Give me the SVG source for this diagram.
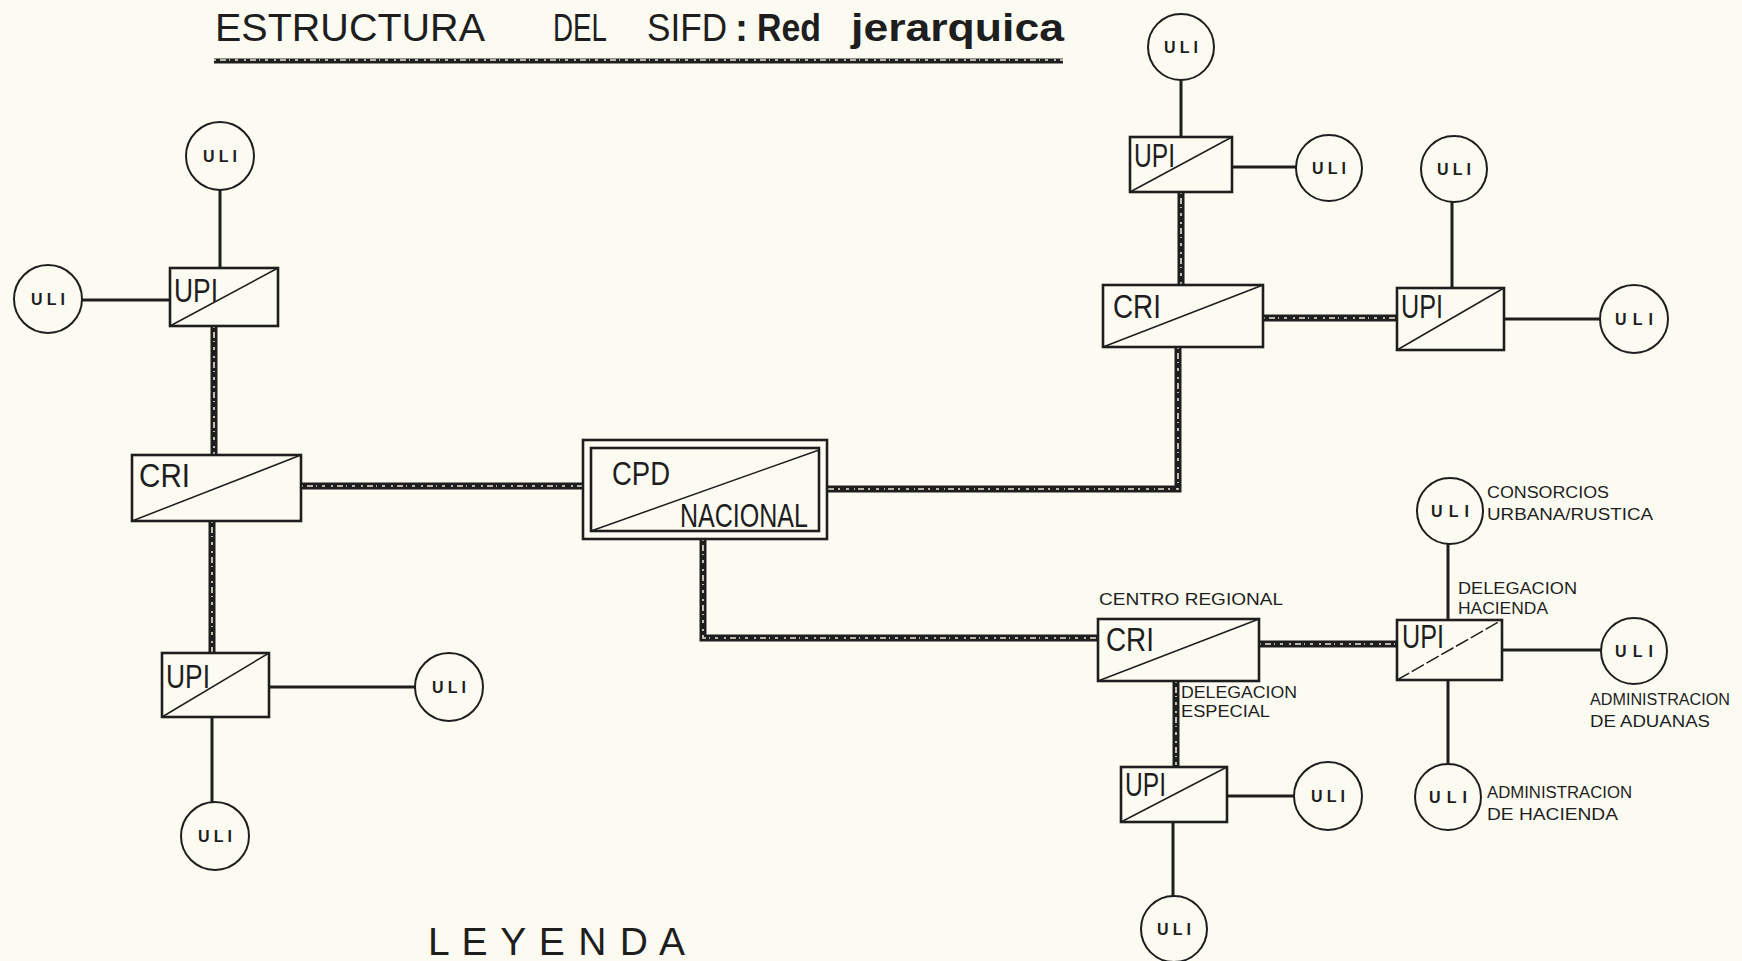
<svg xmlns="http://www.w3.org/2000/svg" width="1742" height="961" viewBox="0 0 1742 961">
<style>
.bg{fill:#fcfbf1}
.box{fill:none;stroke:#1e1e1e;stroke-width:2.6}
.diag{stroke:#1e1e1e;stroke-width:1.5}
.uli{fill:none;stroke:#1e1e1e;stroke-width:2}
.ult{font-family:"Liberation Sans",Arial,sans-serif;font-size:16px;font-weight:bold;letter-spacing:4px;text-anchor:middle;fill:#1e1e1e}
.lbl{font-family:"Liberation Sans",Arial,sans-serif;font-size:33px;fill:#1e1e1e}
.sm{font-family:"Liberation Sans",Arial,sans-serif;font-size:16px;fill:#1e1e1e}
.ttl{font-family:"Liberation Sans",Arial,sans-serif;font-size:39px;fill:#1e1e1e}
.link{fill:none;stroke:#1e1e1e;stroke-width:3}
.trunk{fill:none;stroke:#1e1e1e;stroke-width:7}
.trunkin{fill:none;stroke:#e9e6d6;stroke-width:1.6;stroke-dasharray:2 4 6 3 1 5 3 6}
</style>
<rect class="bg" x="0" y="0" width="1742" height="961"/>

<g id="title">
<text class="ttl" x="215" y="41" textLength="270" lengthAdjust="spacingAndGlyphs">ESTRUCTURA</text>
<text class="ttl" x="553" y="41" textLength="54" lengthAdjust="spacingAndGlyphs">DEL</text>
<text class="ttl" x="647" y="41" textLength="80" lengthAdjust="spacingAndGlyphs">SIFD</text>
<text class="ttl" x="735" y="41" font-weight="bold">:</text>
<text class="ttl" x="757" y="41" font-weight="bold" textLength="64" lengthAdjust="spacingAndGlyphs">Red</text>
<text class="ttl" x="851" y="41" font-weight="bold" textLength="213" lengthAdjust="spacingAndGlyphs">jerarquica</text>
<line x1="214" y1="61" x2="1063" y2="61" stroke="#1e1e1e" stroke-width="5"/>
<line x1="214" y1="60" x2="1063" y2="60" class="trunkin" stroke-width="1.2"/>
</g>

<g id="connectors">
<!-- left cluster -->
<line class="link" x1="220" y1="190" x2="220" y2="268"/>
<line class="link" x1="82" y1="300" x2="170" y2="300"/>
<line class="trunk" x1="214" y1="326" x2="214" y2="455"/>
<line class="trunkin" x1="214" y1="326" x2="214" y2="455"/>
<line class="trunk" x1="301" y1="486" x2="583" y2="486"/>
<line class="trunkin" x1="301" y1="486" x2="583" y2="486"/>
<line class="trunk" x1="212" y1="521" x2="212" y2="653"/>
<line class="trunkin" x1="212" y1="521" x2="212" y2="653"/>
<line class="link" x1="269" y1="687" x2="415" y2="687"/>
<line class="link" x1="212" y1="717" x2="212" y2="802"/>
<!-- upper right -->
<line class="link" x1="1181" y1="80" x2="1181" y2="137"/>
<line class="link" x1="1232" y1="167" x2="1296" y2="167"/>
<line class="trunk" x1="1181" y1="192" x2="1181" y2="285"/>
<line class="trunkin" x1="1181" y1="192" x2="1181" y2="285"/>
<line class="trunk" x1="1263" y1="318" x2="1397" y2="318"/>
<line class="trunkin" x1="1263" y1="318" x2="1397" y2="318"/>
<line class="link" x1="1452" y1="202" x2="1452" y2="288"/>
<line class="link" x1="1504" y1="319" x2="1600" y2="319"/>
<path class="trunk" d="M1178 347 V489 H827"/>
<path class="trunkin" d="M1178 347 V489 H827"/>
<!-- lower right -->
<path class="trunk" d="M703 539 V638 H1098"/>
<path class="trunkin" d="M703 539 V638 H1098"/>
<line class="trunk" x1="1259" y1="644" x2="1397" y2="644"/>
<line class="trunkin" x1="1259" y1="644" x2="1397" y2="644"/>
<line class="link" x1="1448" y1="544" x2="1448" y2="620"/>
<line class="link" x1="1502" y1="650" x2="1601" y2="650"/>
<line class="link" x1="1448" y1="680" x2="1448" y2="764"/>
<line class="trunk" x1="1176" y1="681" x2="1176" y2="767"/>
<line class="trunkin" x1="1176" y1="681" x2="1176" y2="767"/>
<line class="link" x1="1227" y1="796" x2="1294" y2="796"/>
<line class="link" x1="1173" y1="822" x2="1173" y2="896"/>
</g>

<!-- left cluster nodes -->
<g id="uli-l1"><circle class="uli" cx="220" cy="156" r="34"/><text class="ult" x="222" y="162">ULI</text></g>
<g id="uli-l2"><circle class="uli" cx="48" cy="299" r="34"/><text class="ult" x="50" y="305">ULI</text></g>
<g id="upi-l1"><rect class="box" x="170" y="268" width="108" height="58"/><line class="diag" x1="170" y1="326" x2="278" y2="268"/><text class="lbl" x="174" y="302" textLength="44" lengthAdjust="spacingAndGlyphs">UPI</text></g>
<g id="cri-l"><rect class="box" x="132" y="455" width="169" height="66"/><line class="diag" x1="132" y1="521" x2="301" y2="455"/><text class="lbl" x="139" y="487" font-size="35" textLength="51" lengthAdjust="spacingAndGlyphs">CRI</text></g>
<g id="cpd"><rect class="box" x="583" y="440" width="244" height="99"/><rect class="box" x="591" y="448" width="228" height="83" stroke-width="3.2"/><line class="diag" x1="591" y1="531" x2="819" y2="450"/><text class="lbl" x="612" y="485" textLength="58" lengthAdjust="spacingAndGlyphs">CPD</text><text class="lbl" x="680" y="527" font-size="23" textLength="128" lengthAdjust="spacingAndGlyphs">NACIONAL</text></g>
<g id="upi-l2"><rect class="box" x="162" y="653" width="107" height="64"/><line class="diag" x1="162" y1="717" x2="269" y2="653"/><text class="lbl" x="166" y="688" textLength="44" lengthAdjust="spacingAndGlyphs">UPI</text></g>
<g id="uli-l3"><circle class="uli" cx="449" cy="687" r="34"/><text class="ult" x="451" y="693">ULI</text></g>
<g id="uli-l4"><circle class="uli" cx="215" cy="836" r="34"/><text class="ult" x="217" y="842">ULI</text></g>

<!-- upper right nodes -->
<g id="uli-r1"><circle class="uli" cx="1181" cy="47" r="33"/><text class="ult" x="1183" y="53">ULI</text></g>
<g id="upi-r1"><rect class="box" x="1130" y="137" width="102" height="55"/><line class="diag" x1="1130" y1="192" x2="1232" y2="137"/><text class="lbl" x="1134" y="167" textLength="41" lengthAdjust="spacingAndGlyphs">UPI</text></g>
<g id="uli-r2"><circle class="uli" cx="1329" cy="168" r="33"/><text class="ult" x="1331" y="174">ULI</text></g>
<g id="cri-r1"><rect class="box" x="1103" y="285" width="160" height="62"/><line class="diag" x1="1103" y1="347" x2="1263" y2="285"/><text class="lbl" x="1113" y="318" font-size="35" textLength="48" lengthAdjust="spacingAndGlyphs">CRI</text></g>
<g id="uli-r3"><circle class="uli" cx="1454" cy="169" r="33"/><text class="ult" x="1456" y="175">ULI</text></g>
<g id="upi-r2"><rect class="box" x="1397" y="288" width="107" height="62"/><line class="diag" x1="1397" y1="350" x2="1504" y2="288"/><text class="lbl" x="1401" y="318" textLength="42" lengthAdjust="spacingAndGlyphs">UPI</text></g>
<g id="uli-r4"><circle class="uli" cx="1634" cy="319" r="34"/><text class="ult" x="1637" y="325" style="letter-spacing:6px">ULI</text></g>

<!-- lower right nodes -->
<g id="cri-r2"><rect class="box" x="1098" y="619" width="161" height="62"/><line class="diag" x1="1098" y1="681" x2="1259" y2="619"/><text class="lbl" x="1106" y="651" font-size="35" textLength="48" lengthAdjust="spacingAndGlyphs">CRI</text><text class="sm" x="1099" y="605" textLength="184" lengthAdjust="spacingAndGlyphs">CENTRO REGIONAL</text><text class="sm" x="1181" y="698" textLength="116" lengthAdjust="spacingAndGlyphs">DELEGACION</text><text class="sm" x="1181" y="717" textLength="89" lengthAdjust="spacingAndGlyphs">ESPECIAL</text></g>
<g id="uli-r5"><circle class="uli" cx="1450" cy="511" r="33"/><text class="ult" x="1453" y="517" style="letter-spacing:6px">ULI</text><text class="sm" x="1487" y="498" textLength="122" lengthAdjust="spacingAndGlyphs">CONSORCIOS</text><text class="sm" x="1487" y="520" textLength="166" lengthAdjust="spacingAndGlyphs">URBANA/RUSTICA</text></g>
<g id="upi-r3"><rect class="box" x="1397" y="620" width="105" height="60"/><line class="diag" x1="1397" y1="680" x2="1502" y2="620" stroke-dasharray="14 3"/><text class="lbl" x="1402" y="648" textLength="42" lengthAdjust="spacingAndGlyphs">UPI</text><text class="sm" x="1458" y="594" textLength="119" lengthAdjust="spacingAndGlyphs">DELEGACION</text><text class="sm" x="1458" y="614" textLength="90" lengthAdjust="spacingAndGlyphs">HACIENDA</text></g>
<g id="uli-r6"><circle class="uli" cx="1634" cy="651" r="33"/><text class="ult" x="1637" y="657" style="letter-spacing:6px">ULI</text><text class="sm" x="1590" y="705" textLength="140" lengthAdjust="spacingAndGlyphs">ADMINISTRACION</text><text class="sm" x="1590" y="727" textLength="120" lengthAdjust="spacingAndGlyphs">DE  ADUANAS</text></g>
<g id="uli-r7"><circle class="uli" cx="1448" cy="797" r="33"/><text class="ult" x="1451" y="803" style="letter-spacing:6px">ULI</text><text class="sm" x="1487" y="798" textLength="145" lengthAdjust="spacingAndGlyphs">ADMINISTRACION</text><text class="sm" x="1487" y="820" textLength="131" lengthAdjust="spacingAndGlyphs">DE  HACIENDA</text></g>
<g id="upi-r4"><rect class="box" x="1121" y="767" width="106" height="55"/><line class="diag" x1="1121" y1="822" x2="1227" y2="767"/><text class="lbl" x="1125" y="796" textLength="41" lengthAdjust="spacingAndGlyphs">UPI</text></g>
<g id="uli-r8"><circle class="uli" cx="1328" cy="796" r="34"/><text class="ult" x="1330" y="802">ULI</text></g>
<g id="uli-r9"><circle class="uli" cx="1174" cy="929" r="33"/><text class="ult" x="1176" y="935">ULI</text></g>

<g id="leyenda"><text class="ttl" x="428" y="955" font-size="32" textLength="257" lengthAdjust="spacing">L E Y E N D A</text></g>
</svg>
